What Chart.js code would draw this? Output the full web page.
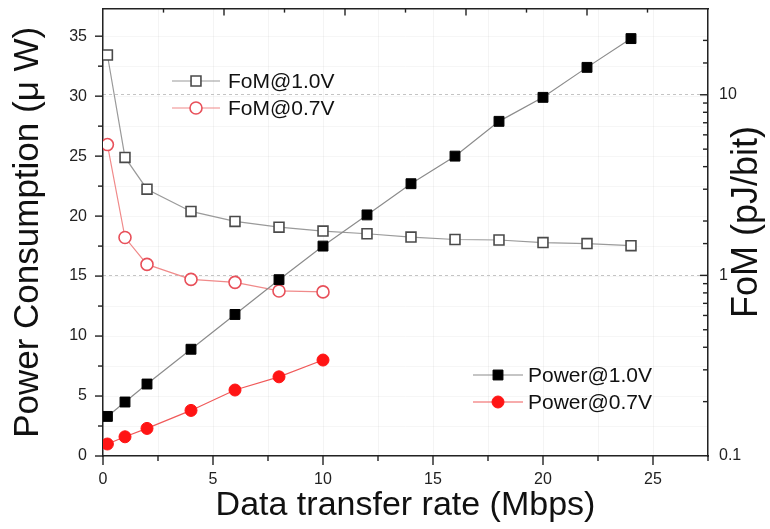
<!DOCTYPE html>
<html><head><meta charset="utf-8">
<style>html,body{margin:0;padding:0;background:#fff;}canvas{display:block;}</style>
<script src="https://cdn.jsdelivr.net/npm/chart.js@4.4.1/dist/chart.umd.min.js"></script>
</head><body>
<canvas id="c" width="770" height="529"></canvas>
<script>
// ---- data ----
const rates10 = [0.2, 1, 2, 4, 6, 8, 10, 12, 14, 16, 18, 20, 22, 24];
const power10 = [3.3, 4.5, 6.0, 8.9, 11.8, 14.7, 17.5, 20.1, 22.7, 25.0, 27.9, 29.9, 32.4, 34.8];
const fom10   = [16.6, 4.5, 3.0, 2.26, 1.99, 1.85, 1.76, 1.70, 1.63, 1.58, 1.57, 1.52, 1.50, 1.46];
const rates07 = [0.2, 1, 2, 4, 6, 8, 10];
const power07 = [1.0, 1.6, 2.3, 3.8, 5.5, 6.6, 8.0];
const fom07   = [5.3, 1.62, 1.15, 0.95, 0.915, 0.82, 0.81];
const seriesNames = ['Power@1.0V', 'Power@0.7V', 'FoM@1.0V', 'FoM@0.7V'];
const xTickLabels = ['0', '5', '10', '15', '20', '25'];
const yTickLabels = ['0', '5', '10', '15', '20', '25', '30', '35'];
const fomTickLabels = ['0.1', '1', '10'];
const xTitle = 'Data transfer rate (Mbps)';
const yTitle = 'Power Consumption (\u03bc W)';
const y2Title = 'FoM (pJ/bit)';

const pts = (xs, ys) => xs.map((x, i) => ({x: x, y: ys[i]}));
const FONT = '"Liberation Sans", Arial, sans-serif';

const datasets = [
  {label: seriesNames[0], data: pts(rates10, power10), yAxisID: 'y',
   borderColor: '#8c8c8c', borderWidth: 1.2, pointStyle: 'rect', pointRadius: 7,
   pointBackgroundColor: '#000', pointBorderColor: '#000', pointBorderWidth: 1},
  {label: seriesNames[1], data: pts(rates07, power07), yAxisID: 'y',
   borderColor: '#f05a5a', borderWidth: 1.2, pointStyle: 'circle', pointRadius: 6,
   pointBackgroundColor: '#ff1414', pointBorderColor: '#ff1414', pointBorderWidth: 1},
  {label: seriesNames[2], data: pts(rates10, fom10), yAxisID: 'y2',
   borderColor: '#9a9a9a', borderWidth: 1.2, pointStyle: 'rect', pointRadius: 7,
   pointBackgroundColor: '#fff', pointBorderColor: '#4a4a4a', pointBorderWidth: 1.6},
  {label: seriesNames[3], data: pts(rates07, fom07), yAxisID: 'y2',
   borderColor: '#f08a8a', borderWidth: 1.2, pointStyle: 'circle', pointRadius: 6,
   pointBackgroundColor: '#fff', pointBorderColor: '#e8505a', pointBorderWidth: 1.6}
];

const near = (v, m) => Math.abs(v / m - Math.round(v / m)) < 1e-6;
const isDecade = v => Math.abs(Math.log10(v) - Math.round(Math.log10(v))) < 1e-6;

function line(ctx, x1, y1, x2, y2) { ctx.beginPath(); ctx.moveTo(x1, y1); ctx.lineTo(x2, y2); ctx.stroke(); }

const tickPlugin = {
  id: 'tickMarks',
  afterDraw(chart) {
    const ctx = chart.ctx, a = chart.chartArea;
    ctx.save();
    ctx.strokeStyle = '#222'; ctx.lineWidth = 1.4;
    const sx = chart.scales.x;
    sx.ticks.forEach(t => { const p = sx.getPixelForValue(t.value);
      line(ctx, p, a.bottom, p, a.bottom + (near(t.value, 5) ? 9 : 5)); });
    const sy = chart.scales.y;
    sy.ticks.forEach(t => { const p = sy.getPixelForValue(t.value);
      line(ctx, a.left, p, a.left - (near(t.value, 5) ? 8 : 5), p); });
    const st = chart.scales.xTop;
    st.ticks.forEach(t => { if (t.value <= st.min || t.value >= st.max) return;
      const p = st.getPixelForValue(t.value);
      line(ctx, p, a.top, p, a.top + (near(t.value, 1) ? 7 : 4)); });
    const sr = chart.scales.y2;
    sr.ticks.forEach(t => { if (t.value <= sr.min * 1.0001 || t.value >= sr.max * 0.9999) return;
      const p = sr.getPixelForValue(t.value);
      line(ctx, a.right, p, a.right - (isDecade(t.value) ? 8 : 5), p); });
    // right axis title, reading upward
    ctx.fillStyle = '#111';
    ctx.font = '36px ' + FONT;
    ctx.textAlign = 'center'; ctx.textBaseline = 'middle';
    ctx.translate(747, 222); ctx.rotate(-Math.PI / 2);
    ctx.fillText(y2Title, 0, 0);
    ctx.restore();
  }
};

function drawMarker(ctx, ds, x, y) {
  ctx.save();
  ctx.fillStyle = ds.pointBackgroundColor; ctx.strokeStyle = ds.pointBorderColor; ctx.lineWidth = ds.pointBorderWidth;
  ctx.beginPath();
  if (ds.pointStyle === 'rect') { const s = ds.pointRadius * Math.SQRT1_2; ctx.rect(x - s, y - s, 2 * s, 2 * s); }
  else { ctx.arc(x, y, ds.pointRadius, 0, Math.PI * 2); }
  ctx.fill(); ctx.stroke();
  ctx.restore();
}

const legendPlugin = {
  id: 'twoLegends',
  afterDraw(chart) {
    const ctx = chart.ctx;
    const groups = [
      {idx: [2, 3], x1: 172, x2: 220, tx: 228, ys: [81, 108]},
      {idx: [0, 1], x1: 473, x2: 523, tx: 528, ys: [375, 402]}
    ];
    ctx.save();
    groups.forEach(g => g.idx.forEach((di, k) => {
      const ds = chart.data.datasets[di], y = g.ys[k];
      ctx.strokeStyle = ds.borderColor; ctx.lineWidth = ds.borderWidth;
      line(ctx, g.x1, y, g.x2, y);
      drawMarker(ctx, ds, (g.x1 + g.x2) / 2, y);
      ctx.fillStyle = '#111'; ctx.font = '21px ' + FONT;
      ctx.textAlign = 'left'; ctx.textBaseline = 'middle';
      ctx.fillText(ds.label, g.tx, y + 1);
    }));
    ctx.restore();
  }
};

const noPad = s => { s.paddingTop = 0; s.paddingBottom = 0; s.paddingLeft = 0; s.paddingRight = 0; };

new Chart(document.getElementById('c'), {
  type: 'line',
  data: {datasets: datasets},
  plugins: [tickPlugin, legendPlugin],
  options: {
    responsive: false, animation: false,
    layout: {padding: 0},
    plugins: {legend: {display: false}, tooltip: {enabled: false}},
    elements: {line: {tension: 0}},
    scales: {
      x: {type: 'linear', position: 'bottom', min: 0, max: 27.5,
        afterFit: s => { s.height = 73; noPad(s); },
        ticks: {stepSize: 2.5, includeBounds: false, padding: 14, color: '#222',
          font: {family: FONT, size: 16},
          callback: v => near(v, 5) ? xTickLabels[Math.round(v / 5)] : ''},
        grid: {color: 'rgba(0,0,0,0.045)', drawTicks: false},
        border: {color: '#222', width: 1.5},
        title: {display: true, text: xTitle, color: '#111', font: {family: FONT, size: 34, lineHeight: 1},
          padding: {top: 0, bottom: 6}}},
      xTop: {type: 'linear', position: 'top', min: 0, max: 5,
        afterFit: s => { s.height = 8; noPad(s); },
        ticks: {display: false, stepSize: 0.5},
        grid: {display: false, drawTicks: false},
        border: {color: '#222', width: 1.5}},
      y: {type: 'linear', position: 'left', min: 0, max: 37.3,
        afterFit: s => { s.width = 103; noPad(s); },
        ticks: {stepSize: 2.5, includeBounds: false, padding: 16, color: '#222',
          font: {family: FONT, size: 16},
          callback: v => near(v, 5) ? yTickLabels[Math.round(v / 5)] : ''},
        grid: {color: 'rgba(0,0,0,0.035)', drawTicks: false},
        border: {color: '#222', width: 1.5},
        title: {display: true, text: yTitle, color: '#111', font: {family: FONT, size: 35, lineHeight: 1},
          padding: {top: 11, bottom: 0}}},
      y2: {type: 'logarithmic', position: 'right', min: 0.1, max: 30,
        afterFit: s => { s.width = 62; noPad(s); },
        ticks: {padding: 11, color: '#222', font: {family: FONT, size: 16}, autoSkip: false,
          callback: v => isDecade(v) ? fomTickLabels[Math.round(Math.log10(v)) + 1] : ''},
        grid: {drawTicks: false, drawOnChartArea: true, lineWidth: 1,
          color: c => (c.tick && isDecade(c.tick.value) && c.tick.value > 0.5) ? '#c4c4c4' : 'rgba(0,0,0,0)'},
        border: {color: '#222', width: 1.5, dash: [3, 3]}}
    }
  }
});
</script>
</body></html>
